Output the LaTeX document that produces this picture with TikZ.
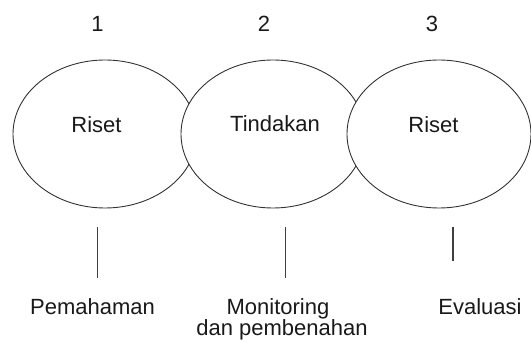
\documentclass[tikz,border=0pt]{standalone}
\usepackage{fontspec}
\setmainfont{Liberation Sans}
\usetikzlibrary{shapes.geometric}
\begin{document}
\begin{tikzpicture}[x=1pt,y=-1pt,
  oval/.style={draw=black!80,fill=white,line width=0.9pt,ellipse,minimum width=184pt,minimum height=148pt,inner sep=0pt},
  lbl/.style={font=\fontsize{22}{26}\selectfont,inner sep=0pt,anchor=base,text=black!90},
  tick/.style={draw=black!75,line width=1.1pt}]
\useasboundingbox (0,0) rectangle (531,342);
\begin{scope}
\clip (0,0) rectangle (531,342);
\node[oval] (e1) at (105,134) {};
\node[oval] (e2) at (273,134) {};
\node[oval] (e3) at (439,134) {};
\end{scope}
\node[lbl] (n1) at (97.5,32) {1};
\node[lbl] (n2) at (264,32) {2};
\node[lbl] (n3) at (432,32) {3};
\node[lbl] (t1) at (96.5,133) {Riset};
\node[lbl] (t2) at (275,132) {Tindakan};
\node[lbl] (t3) at (433.5,133) {Riset};
\coordinate (a1) at (97.5,227); \coordinate (b1) at (97.5,278);
\coordinate (a2) at (285.5,227); \coordinate (b2) at (285.5,278);
\coordinate (a3) at (453,227); \coordinate (b3) at (453,261);
\draw[tick] (a1) -- (b1);
\draw[tick] (a2) -- (b2);
\draw[tick] (a3) -- (b3);
\node[lbl] (p1) at (92.5,315) {Pemahaman};
\node[lbl] (p2) at (278,315) {Monitoring};
\node[lbl] (p2b) at (282,336) {dan pembenahan};
\node[lbl] (p3) at (480,315) {Evaluasi};
\end{tikzpicture}
\end{document}
